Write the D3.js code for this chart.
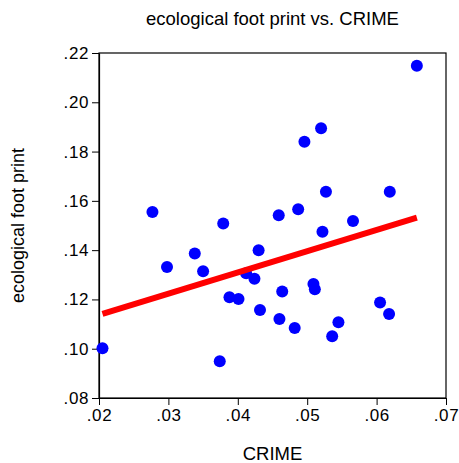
<!DOCTYPE html>
<html>
<head>
<meta charset="utf-8">
<script src="https://cdn.jsdelivr.net/npm/d3@7"></script>
<style>
  body { margin: 0; background: #fff; }
  svg text { font-family: "Liberation Sans", Arial, sans-serif; fill: #000; }
</style>
</head>
<body>
<div id="chart"></div>
<script>
// values
const crime = [
  0.0205, 0.0277, 0.0298, 0.0338, 0.0350, 0.0374, 0.0379, 0.0388, 0.0401, 0.0412,
  0.0424, 0.0430, 0.0432, 0.0459, 0.0460, 0.0464, 0.0482, 0.0487, 0.0496, 0.0509,
  0.0511, 0.0520, 0.0522, 0.0527, 0.0536, 0.0545, 0.0566, 0.0605, 0.0618, 0.0619,
  0.0658
];
const footprint = [
  0.1002, 0.1555, 0.1332, 0.1386, 0.1314, 0.0949, 0.1508, 0.1209, 0.1202, 0.1306,
  0.1284, 0.1400, 0.1157, 0.1542, 0.1121, 0.1232, 0.1084, 0.1566, 0.1840, 0.1263,
  0.1241, 0.1895, 0.1475, 0.1637, 0.1051, 0.1107, 0.1518, 0.1188, 0.1141, 0.1637,
  0.2148
];
// fitted line end points
const fitX = [0.0205, 0.0658];
const fitY = [0.1141, 0.1532];

const xTicks = [0.02, 0.03, 0.04, 0.05, 0.06, 0.07];
const yTicks = [0.08, 0.10, 0.12, 0.14, 0.16, 0.18, 0.20, 0.22];

const width = 459;
const height = 463;
const margin = { top: 53, right: 13, bottom: 65, left: 99 };
const w = width - margin.left - margin.right;
const h = height - margin.top - margin.bottom;

const svg = d3
  .select('#chart')
  .append('svg')
  .attr('width', width)
  .attr('height', height);

const g = svg.append('g').attr('transform', `translate(${margin.left}, ${margin.top})`);

const x = d3.scaleLinear().domain([0.02, 0.07]).range([0, w]);
const y = d3.scaleLinear().domain([0.08, 0.22]).range([h, 0]);

const fmt = d => d3.format('.2f')(d).replace(/^0/, '');

// frame
g.append('rect')
  .attr('x', 0)
  .attr('y', 0)
  .attr('width', w)
  .attr('height', h)
  .attr('fill', 'none')
  .attr('stroke', '#000')
  .attr('stroke-width', 1.2);

const xAxis = g
  .append('g')
  .attr('transform', `translate(0, ${h})`)
  .call(d3.axisBottom(x).tickValues(xTicks).tickFormat(fmt).tickSize(7).tickSizeOuter(0).tickPadding(4));

const yAxis = g
  .append('g')
  .call(d3.axisLeft(y).tickValues(yTicks).tickFormat(fmt).tickSize(7).tickSizeOuter(0).tickPadding(3));

[xAxis, yAxis].forEach(a => {
  a.select('.domain').attr('stroke', '#000').attr('stroke-width', 1.2);
  a.selectAll('.tick line').attr('stroke', '#000');
  a.selectAll('.tick text')
    .style('font-family', '"Liberation Sans", Arial, sans-serif')
    .style('font-size', '17px')
    .style('letter-spacing', '0.6px')
    .attr('fill', '#000');
});

// points
g.selectAll('.dot')
  .data(crime.map((c, i) => [c, footprint[i]]))
  .enter()
  .append('circle')
  .attr('class', 'dot')
  .attr('cx', d => x(d[0]))
  .attr('cy', d => y(d[1]))
  .attr('r', 6)
  .attr('fill', '#0000ff');

// regression line
const line = d3
  .line()
  .x(d => x(d[0]))
  .y(d => y(d[1]));

g.append('path')
  .attr('d', line(fitX.map((v, i) => [v, fitY[i]])))
  .attr('fill', 'none')
  .attr('stroke', '#ff0000')
  .attr('stroke-width', 6);

// titles
svg.append('text')
  .attr('x', margin.left + w / 2)
  .attr('y', 25)
  .attr('text-anchor', 'middle')
  .style('font-size', '18.5px')
  .text('ecological foot print vs. CRIME');

svg.append('text')
  .attr('x', margin.left + w / 2)
  .attr('y', 460)
  .attr('text-anchor', 'middle')
  .style('font-size', '18.5px')
  .text('CRIME');

svg.append('text')
  .attr('transform', `translate(24, ${margin.top + h / 2}) rotate(-90)`)
  .attr('text-anchor', 'middle')
  .style('font-size', '18px')
  .text('ecological foot print');
</script>
</body>
</html>
